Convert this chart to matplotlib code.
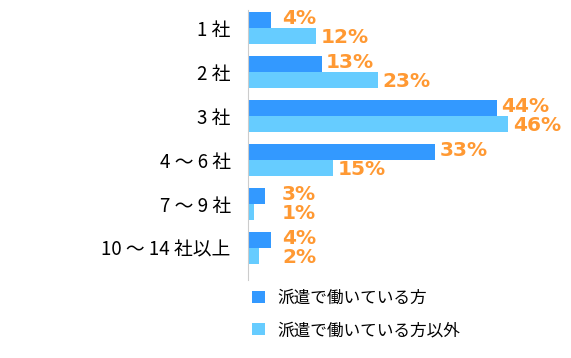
import matplotlib.pyplot as plt
import numpy as np

plt.rcParams['font.family'] = ['Noto Sans CJK JP', 'DejaVu Sans']

categories = ['1 社', '2 社', '3 社', '4 ～ 6 社', '7 ～ 9 社', '10 ～ 14 社以上']
haken = [4, 13, 44, 33, 3, 4]
other = [12, 23, 46, 15, 1, 2]
series_names = ['派遣で働いている方', '派遣で働いている方以外']

c_dark = '#3399FF'
c_light = '#66CCFF'
c_label = '#FF9933'

fig = plt.figure(figsize=(5.71, 3.58), dpi=100)
ax = fig.add_axes([248 / 571, 1 - 280 / 358, 317 / 571, 270 / 358])

y = np.arange(len(categories))
h = 0.37
b1 = ax.barh(y - h / 2, haken, height=h, color=c_dark, label=series_names[0])
b2 = ax.barh(y + h / 2, other, height=h, color=c_light, label=series_names[1])

for vals, offs in ((haken, -h / 2 - 0.03), (other, h / 2 + 0.04)):
    for i, v in enumerate(vals):
        x = max(v + 0.8, 6.0)
        ax.text(x, i + offs, f'{v}%', color=c_label, fontsize=14.5,
                fontweight='bold', family='DejaVu Sans', va='center', ha='left')

ax.set_xlim(0, 56)
ax.set_ylim(5.73, -0.41)
ax.set_yticks(y)
ax.set_yticklabels(categories, fontsize=13.5)
ax.tick_params(axis='y', length=0, pad=12.5)
ax.set_xticks([])
for s in ['top', 'right', 'bottom']:
    ax.spines[s].set_visible(False)
ax.spines['left'].set_color('#CCCCCC')

fig.legend(handles=[b1, b2], loc='upper left', bbox_to_anchor=(252 / 571, 1 - 290 / 358),
           frameon=False, fontsize=12, handlelength=0.75, handleheight=0.75,
           handletextpad=0.8, labelspacing=0.9, borderpad=0, borderaxespad=0)

fig.savefig('out.png', dpi=100)
